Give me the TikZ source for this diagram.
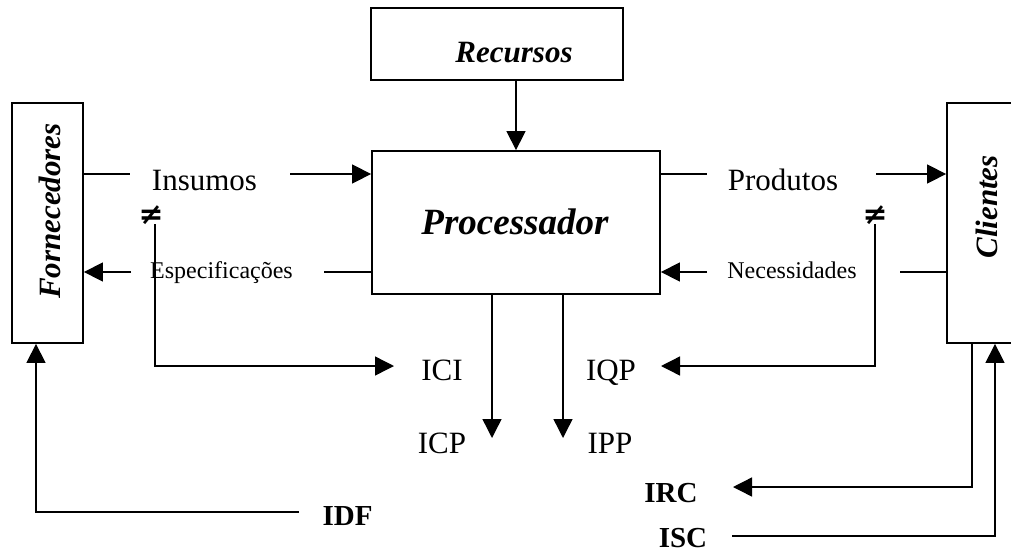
\documentclass[tikz,border=0pt]{standalone}
\usepackage{fontspec}
\setmainfont{Liberation Serif}
\newfontfamily\neqfont{DejaVu Sans}
\usetikzlibrary{arrows.meta}
\begin{document}
\begin{tikzpicture}[x=1pt,y=-1pt,
  box/.style={draw, line width=1.8pt, inner sep=0pt},
  conn/.style={line width=1.4pt},
  arr/.style={line width=1.4pt, -{Triangle[length=19pt,width=19pt]}},
  big/.style={font=\fontsize{31}{31}\selectfont, inner sep=0pt},
  small/.style={font=\fontsize{24}{24}\selectfont, inner sep=0pt},
  bl/.style={font=\fontsize{29}{29}\selectfont\bfseries, inner sep=0pt},
  bi/.style={font=\fontsize{31}{31}\selectfont\bfseries\itshape, inner sep=0pt},
  neqsym/.style={inner sep=0pt, font=\neqfont\bfseries}]
\useasboundingbox (0,0) rectangle (1011,552);
% boxes
\node[box, minimum width=252pt, minimum height=72pt] (R) at (497,44) {};
\node[bi, anchor=base] (Rt) at (514,62) {Recursos};
\node[box, minimum width=288pt, minimum height=143pt] (P) at (516,222.5) {};
\node[font=\fontsize{37}{37}\selectfont\bfseries\itshape, inner sep=0pt] (Pt) at (515,222) {Processador};
\node[box, minimum width=71pt, minimum height=240pt] (F) at (47.5,223) {};
\node[bi, rotate=90] (Ft) at (50,211) {Fornecedores};
\node[box, minimum width=78pt, minimum height=240pt] (C) at (986,223) {};
\node[bi, rotate=90] (Ct) at (987,207) {Clientes};
% labels
\node[big, anchor=base] (ins) at (204.5,190) {Insumos};
\node[small, anchor=base] (esp) at (221.5,278) {Especificações};
\node[big, anchor=base] (pro) at (783,190) {Produtos};
\node[small, anchor=base] (nec) at (792,278) {Necessidades};
\node[big, anchor=base] (ICI) at (442,380) {ICI};
\node[big, anchor=base] (IQP) at (611,380) {IQP};
\node[big, anchor=base] (ICP) at (442,453) {ICP};
\node[big, anchor=base] (IPP) at (610,453) {IPP};
\node[bl, anchor=base] (IDF) at (347.5,525) {IDF};
\node[bl, anchor=base] (IRC) at (671,502) {IRC};
\node[bl, anchor=base] (ISC) at (683,547) {ISC};
\node[neqsym] (ne1) at (151,215) {\resizebox{25pt}{!}{≠}};
\node[neqsym] (ne2) at (875,215) {\resizebox{25pt}{!}{≠}};
% coordinates
\coordinate (insL) at (130,174); \coordinate (insR) at (290,174);
\coordinate (espL) at (131,272); \coordinate (espR) at (324,272);
\coordinate (prL) at (707,174); \coordinate (prR) at (876,174);
\coordinate (necL) at (707,272); \coordinate (necR) at (900,272);
\coordinate (ciTop) at (155,224); \coordinate (ciEnd) at (394,366);
\coordinate (qpTop) at (875,224); \coordinate (qpEnd) at (661,366);
\coordinate (cpEnd) at (492,438); \coordinate (ppEnd) at (563,438);
\coordinate (rcCorner) at (972,487); \coordinate (rcEnd) at (733,487);
\coordinate (scStart) at (732,536); \coordinate (scCorner) at (995,536);
\coordinate (dfStart) at (299,512); \coordinate (dfCorner) at (36,512);
% connectors
\draw[arr] (R.south -| P.north) -- (P.north);
\draw[conn] (F.east |- insL) -- (insL);
\draw[arr] (insR) -- (P.west |- insR);
\draw[arr] (espL) -- (F.east |- espL);
\draw[conn] (P.west |- espR) -- (espR);
\draw[conn] (P.east |- prL) -- (prL);
\draw[arr] (prR) -- (C.west |- prR);
\draw[arr] (necL) -- (P.east |- necL);
\draw[conn] (C.west |- necR) -- (necR);
\draw[arr] (ciTop) |- (ciEnd);
\draw[arr] (qpTop) |- (qpEnd);
\draw[arr] (P.south -| cpEnd) -- (cpEnd);
\draw[arr] (P.south -| ppEnd) -- (ppEnd);
\draw[arr] (C.south -| rcCorner) -- (rcCorner) -- (rcEnd);
\draw[arr] (scStart) -- (scCorner) -- (C.south -| scCorner);
\draw[arr] (dfStart) -- (dfCorner) -- (F.south -| dfCorner);
\end{tikzpicture}
\end{document}
